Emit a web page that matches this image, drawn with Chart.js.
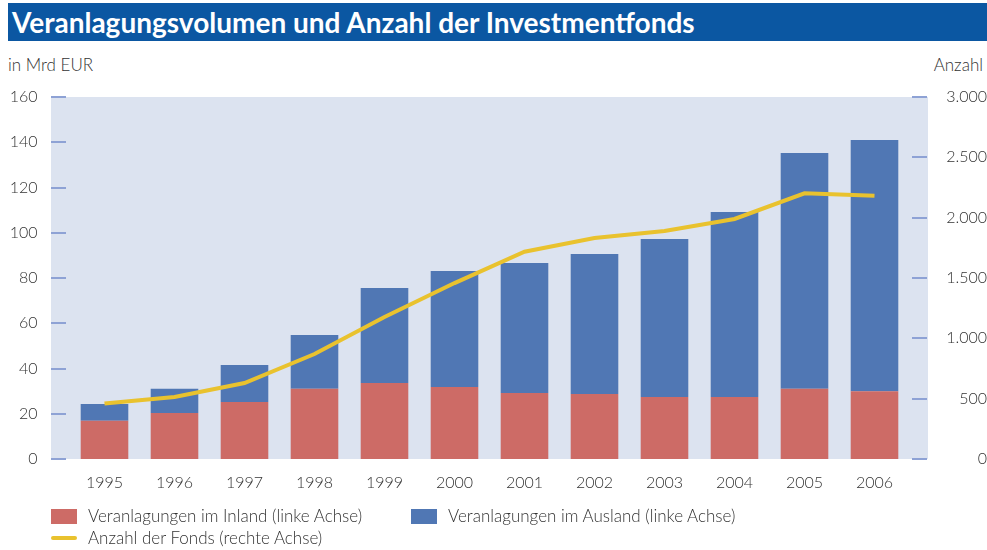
<!DOCTYPE html>
<html lang="de">
<head>
<meta charset="utf-8">
<title>Veranlagungsvolumen und Anzahl der Investmentfonds</title>
<script src="https://cdn.jsdelivr.net/npm/chart.js@4.4.1/dist/chart.umd.min.js"></script>
<style>
  html, body { margin: 0; padding: 0; background: #fff; }
  body { width: 987px; height: 550px; position: relative; overflow: hidden;
         font-family: Lato, "Open Sans", sans-serif; color: #333; }
  #chart { position: absolute; left: 0; top: 0; }
  .title { position: absolute; left: 8px; top: 3px; width: 979px; height: 38px;
           background: #0b57a2; color: #fff; font-weight: 700; font-size: 28px;
           line-height: 38px; padding-left: 4px; box-sizing: border-box; }
  .unit { position: absolute; top: 54px; font-size: 17px; font-weight: 300; }
  #legend { position: absolute; left: 0; top: 0; width: 987px; height: 550px; pointer-events: none; }
  .item { position: absolute; font-size: 17px; font-weight: 300; line-height: 20px; white-space: nowrap; }
  .sw { position: absolute; left: -37px; }
</style>
</head>
<body>
<div class="title">Veranlagungsvolumen und Anzahl der Investmentfonds</div>
<div class="unit" style="left:8px">in Mrd EUR</div>
<div class="unit" style="right:4px">Anzahl</div>
<canvas id="chart" width="987" height="550"></canvas>
<div id="legend"></div>
<script>
// Daten
const years = ["1995", "1996", "1997", "1998", "1999", "2000", "2001", "2002", "2003", "2004", "2005", "2006"];
const inland = [16.9, 20.3, 25.2, 31.0, 33.6, 31.8, 29.2, 28.7, 27.4, 27.4, 31.0, 30.0];
const ausland = [7.4, 10.7, 16.3, 23.8, 42.0, 51.3, 57.4, 61.9, 69.8, 81.8, 104.2, 111.0];
const anzahlFonds = [460, 514, 630, 870, 1177, 1458, 1718, 1831, 1889, 1989, 2202, 2182];
const leftTicks = [0, 20, 40, 60, 80, 100, 120, 140, 160];
const rightTicks = [0, 500, 1000, 1500, 2000, 2500, 3000];

const fmt = (v) => String(v).replace(/\B(?=(\d{3})+(?!\d))/g, ".");
const tickFont = { family: "Lato", size: 16, weight: 300 };

// Hintergrund und kurze Tick-Striche im Plotbereich
const backdrop = {
  id: "backdrop",
  beforeDraw(chart) {
    const { ctx, chartArea: a, scales } = chart;
    const ext = 18.5;
    ctx.save();
    ctx.fillStyle = "#dce3f0";
    ctx.fillRect(a.left - ext, a.top, a.right - a.left + 2 * ext, a.bottom - a.top);
    ctx.strokeStyle = "#8ea2d5";
    ctx.lineWidth = 2;
    scales.y.ticks.forEach((t) => {
      const y = Math.round(scales.y.getPixelForValue(t.value));
      ctx.beginPath();
      ctx.moveTo(a.left - ext, y);
      ctx.lineTo(a.left - ext + 15, y);
      ctx.stroke();
    });
    scales.y1.ticks.forEach((t) => {
      const y = Math.round(scales.y1.getPixelForValue(t.value));
      ctx.beginPath();
      ctx.moveTo(a.right + ext - 16, y);
      ctx.lineTo(a.right + ext - 1, y);
      ctx.stroke();
    });
    ctx.restore();
  }
};

const chart = new Chart(document.getElementById("chart"), {
  type: "bar",
  data: {
    labels: years,
    datasets: [
      {
        label: "Veranlagungen im Inland (linke Achse)",
        data: inland,
        backgroundColor: "#cd6b66",
        yAxisID: "y",
        order: 1
      },
      {
        label: "Veranlagungen im Ausland (linke Achse)",
        data: ausland,
        backgroundColor: "#5077b4",
        yAxisID: "y",
        order: 1
      },
      {
        type: "line",
        label: "Anzahl der Fonds (rechte Achse)",
        data: anzahlFonds,
        borderColor: "#e9c22e",
        backgroundColor: "#e9c22e",
        borderWidth: 4,
        pointRadius: 0,
        tension: 0,
        borderCapStyle: "butt",
        yAxisID: "y1",
        order: 0
      }
    ]
  },
  options: {
    responsive: false,
    animation: false,
    layout: { padding: { top: 97, left: 0, right: 0, bottom: 0 } },
    datasets: { bar: { categoryPercentage: 1, barPercentage: 0.68 } },
    plugins: { legend: { display: false }, tooltip: { enabled: false } },
    scales: {
      x: {
        stacked: true,
        grid: { display: false, drawTicks: false },
        border: { display: false },
        ticks: { color: "#333", font: tickFont, padding: 14, maxRotation: 0 },
        afterFit(s) { s.height = 91; }
      },
      y: {
        stacked: true,
        min: 0,
        max: 160,
        afterBuildTicks(s) { s.ticks = leftTicks.map((v) => ({ value: v })); },
        grid: { display: false, drawTicks: false },
        border: { display: false },
        ticks: { color: "#333", font: tickFont, padding: 32 },
        afterFit(s) { s.width = 69.5; }
      },
      y1: {
        position: "right",
        min: 0,
        max: 3000,
        afterBuildTicks(s) { s.ticks = rightTicks.map((v) => ({ value: v })); },
        grid: { display: false, drawTicks: false },
        border: { display: false },
        ticks: { color: "#333", font: tickFont, padding: 31, crossAlign: "far", callback: (v) => fmt(v) },
        afterFit(s) { s.width = 77.5; }
      }
    }
  },
  plugins: [backdrop]
});

// Legende
const legendPos = [
  { left: 88, top: 506 },
  { left: 448, top: 506 },
  { left: 88, top: 528 }
];
const legendEl = document.getElementById("legend");
chart.data.datasets.forEach((ds, i) => {
  const item = document.createElement("div");
  item.className = "item";
  item.style.left = legendPos[i].left + "px";
  item.style.top = legendPos[i].top + "px";
  const sw = document.createElement("span");
  sw.className = "sw";
  if (ds.type === "line") {
    sw.style.cssText += "top:8px;width:26px;height:4px;border-radius:2px;background:" + ds.borderColor;
  } else {
    sw.style.cssText += "top:3px;width:26px;height:15px;background:" + ds.backgroundColor;
  }
  item.appendChild(sw);
  item.appendChild(document.createTextNode(ds.label));
  legendEl.appendChild(item);
});
</script>
</body>
</html>
